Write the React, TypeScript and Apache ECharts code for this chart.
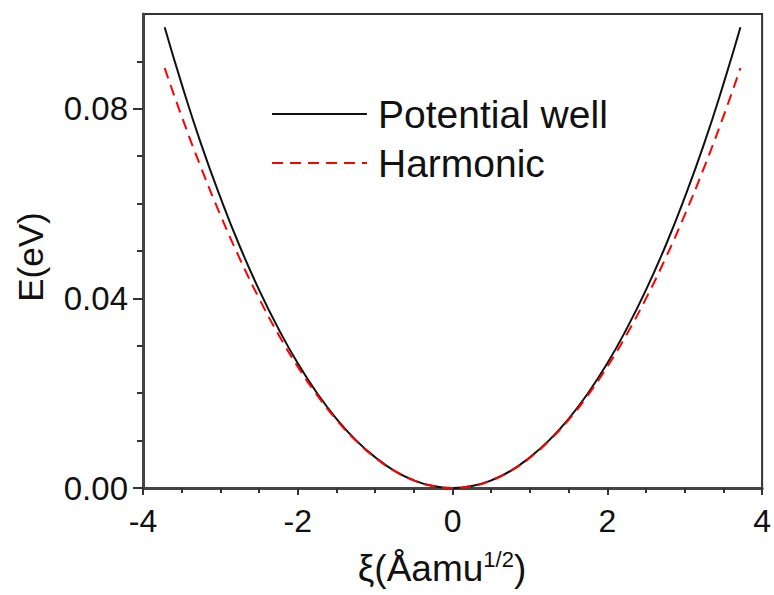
import React, { useEffect, useRef } from "react";
import * as echarts from "echarts";

const xi = [-3.72, -3.5, -3.25, -3.0, -2.75, -2.5, -2.25, -2.0, -1.75, -1.5, -1.25, -1.0, -0.75, -0.5, -0.25, 0, 0.25, 0.5, 0.75, 1.0, 1.25, 1.5, 1.75, 2.0, 2.25, 2.5, 2.75, 3.0, 3.25, 3.5, 3.72];
const potentialWell = [0.0972, 0.0852, 0.0726, 0.0613, 0.051, 0.0418, 0.0336, 0.0263, 0.02, 0.0146, 0.0101, 0.0065, 0.0036, 0.0016, 0.0004, 0, 0.0004, 0.0016, 0.0036, 0.0065, 0.0101, 0.0146, 0.02, 0.0263, 0.0336, 0.0418, 0.051, 0.0613, 0.0726, 0.0852, 0.0972];
const harmonic = [0.0886, 0.0784, 0.0676, 0.0576, 0.0484, 0.04, 0.0324, 0.0256, 0.0196, 0.0144, 0.01, 0.0064, 0.0036, 0.0016, 0.0004, 0, 0.0004, 0.0016, 0.0036, 0.0064, 0.01, 0.0144, 0.0196, 0.0256, 0.0324, 0.04, 0.0484, 0.0576, 0.0676, 0.0784, 0.0886];
const yMajorTicks = [0, 0.04, 0.08];
const yMinorTicks = [0.01, 0.02, 0.03, 0.05, 0.06, 0.07, 0.09];
const seriesNames = ["Potential well", "Harmonic"];

const FONT = "'Liberation Sans', Arial, Helvetica, sans-serif";

export default function App() {
  const ref = useRef<HTMLDivElement>(null);
  useEffect(() => {
    if (!ref.current) return;
    const chart = echarts.init(ref.current, undefined, { renderer: "svg" });
    const pair = (ys: number[]) => xi.map((x, i) => [x, ys[i]]);
    chart.setOption({
      animation: false,
      backgroundColor: "#ffffff",
      grid: {
        left: 143,
        right: 11,
        top: 14,
        bottom: 107,
        show: true,
        borderColor: "#333",
        borderWidth: 2,
      },
      xAxis: {
        type: "value",
        min: -4,
        max: 4,
        interval: 2,
        axisLine: { show: true, onZero: false, lineStyle: { color: "#444", width: 3 } },
        axisTick: { show: true, length: 7, lineStyle: { color: "#333", width: 2 } },
        minorTick: { show: true, splitNumber: 4, length: 5, lineStyle: { color: "#333", width: 2 } },
        splitLine: { show: false },
        axisLabel: { fontFamily: FONT, fontSize: 32, color: "#111", margin: 17 },
      },
      yAxis: [
        {
          type: "value",
          min: 0,
          max: 0.1,
          axisLine: { show: true, onZero: false, lineStyle: { color: "#444", width: 3 } },
          axisTick: { show: true, length: 10, customValues: yMajorTicks, lineStyle: { color: "#333", width: 2 } },
          splitLine: { show: false },
          axisLabel: {
            customValues: yMajorTicks,
            fontFamily: FONT,
            fontSize: 33,
            color: "#111",
            margin: 15,
            formatter: (v: number) => v.toFixed(2),
          },
        },
        {
          type: "value",
          min: 0,
          max: 0.1,
          position: "left",
          axisLine: { show: false, onZero: false },
          axisTick: { show: true, length: 6, customValues: yMinorTicks, lineStyle: { color: "#333", width: 2 } },
          splitLine: { show: false },
          axisLabel: { show: false },
        },
      ],
      series: [
        {
          name: seriesNames[0],
          type: "line",
          data: pair(potentialWell),
          smooth: true,
          symbol: "none",
          lineStyle: { color: "#111", width: 2 },
          z: 2,
        },
        {
          name: seriesNames[1],
          type: "line",
          data: pair(harmonic),
          smooth: true,
          symbol: "none",
          lineStyle: { color: "#ff0000", width: 2, type: [11, 7] },
          z: 3,
        },
      ],
      graphic: [
        {
          type: "line",
          shape: { x1: 272, y1: 114, x2: 367, y2: 114 },
          style: { stroke: "#111", lineWidth: 2 },
        },
        {
          type: "text",
          x: 378,
          y: 114,
          style: { text: seriesNames[0], fontFamily: FONT, fontSize: 39, fill: "#111", verticalAlign: "middle", align: "left" },
        },
        {
          type: "line",
          shape: { x1: 272, y1: 163, x2: 367, y2: 163 },
          style: { stroke: "#ff0000", lineWidth: 2, lineDash: [11, 7] },
        },
        {
          type: "text",
          x: 378,
          y: 163,
          style: { text: seriesNames[1], fontFamily: FONT, fontSize: 39, fill: "#111", verticalAlign: "middle", align: "left" },
        },
        {
          type: "text",
          x: 30,
          y: 257,
          rotation: Math.PI / 2,
          style: { text: "E(eV)", fontFamily: FONT, fontSize: 35, fill: "#111", verticalAlign: "middle", align: "center" },
        },
        {
          type: "text",
          x: 442,
          y: 568,
          style: {
            text: "ξ(Åamu{sup|1/2})",
            fontFamily: FONT,
            fontSize: 37,
            fill: "#111",
            verticalAlign: "middle",
            align: "center",
            rich: {
              sup: { fontFamily: FONT, fontSize: 22, fill: "#111", verticalAlign: "bottom", padding: [0, 0, 18, 0] },
            },
          },
        },
      ],
    });
    return () => chart.dispose();
  }, []);
  return <div ref={ref} style={{ position: "fixed", left: 0, top: 0, width: 774, height: 595 }} />;
}
